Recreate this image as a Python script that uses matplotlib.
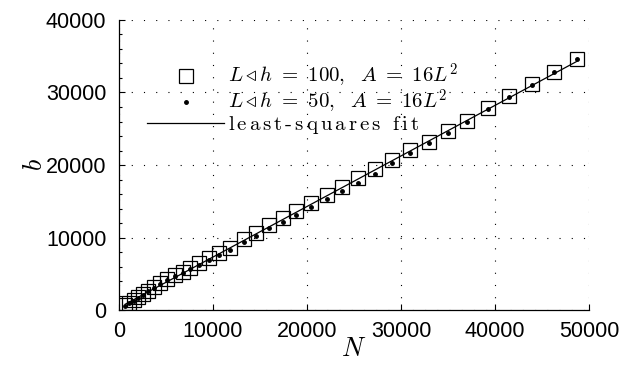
import numpy as np
import matplotlib
matplotlib.use('Agg')
from matplotlib import pyplot as plt
from matplotlib.ticker import MultipleLocator

plt.rcParams['mathtext.fontset'] = 'cm'
plt.rcParams['font.family'] = 'Liberation Sans'

# L/h = 100 series (open squares)
N_100 = [670, 1096, 1564, 2021, 2521, 3085, 3691, 4394, 5106, 5926,
         6777, 7585, 8543, 9543, 10670, 11840, 13266, 14574, 15989, 17415,
         18830, 20394, 22096, 23691, 25457, 27234, 29043, 30957, 32979, 35032,
         37021, 39287, 41521, 43936, 46309, 48691]
b_100 = [690, 1007, 1379, 1752, 2207, 2662, 3131, 3683, 4234, 4828,
         5283, 5752, 6441, 7131, 7821, 8510, 9752, 10579, 11766, 12648,
         13697, 14800, 15903, 17007, 18166, 19448, 20750, 22069, 23172, 24690,
         26138, 27903, 29517, 31172, 32869, 34579]

# L/h = 50 series (dots)
N_50 = [670, 1096, 1564, 2021, 2521, 3085, 3691, 4394, 5106, 5926,
        6777, 7585, 8543, 9543, 10670, 11840, 13266, 14574, 15989, 17415,
        18830, 20394, 22096, 23691, 25457, 27234, 29043, 30957, 32979, 35032,
        37021, 39287, 41521, 43936, 46309, 48691]
b_50 = [600, 930, 1300, 1680, 2120, 2570, 3030, 3560, 4090, 4650,
        5150, 5600, 6250, 6900, 7550, 8250, 9400, 10200, 11300, 12200,
        13100, 14150, 15300, 16400, 17550, 18800, 20300, 21700, 23000, 24450,
        25900, 27700, 29350, 31050, 32800, 34650]

x_ticks = [0, 10000, 20000, 30000, 40000, 50000]
y_ticks = [0, 10000, 20000, 30000, 40000]

# least-squares line through both data sets
N_all = np.concatenate([N_100, N_50])
b_all = np.concatenate([b_100, b_50])
slope, icpt = np.polyfit(N_all, b_all, 1)
N_fit = np.array([min(N_all), max(N_all)])

fig = plt.figure(figsize=(6.22, 3.71), dpi=100)
ax = fig.add_axes([0.1913, 0.1644, 0.7557, 0.7817])

ax.plot(N_100, b_100, 's', mfc='none', mec='k', mew=0.9, ms=9.5,
        label=r'$L \triangleleft h\ =\ 100,\ \ A\ =\ 16L^2$')
ax.plot(N_50, b_50, '.', color='k', ms=5,
        label=r'$L \triangleleft h\ =\ 50,\ \ A\ =\ 16L^2$')
ax.plot(N_fit, slope * N_fit + icpt, '-', color='k', lw=0.9,
        label=r'$\mathrm{l\,e\,a\,s\,t\,\text{-}\,s\,q\,u\,a\,r\,e\,s\ \ f\,i\,t}$')

ax.set_xlim(0, 50000)
ax.set_ylim(0, 40000)
ax.set_xticks(x_ticks)
ax.set_yticks(y_ticks)
ax.yaxis.set_minor_locator(MultipleLocator(2000))
ax.tick_params(which='both', direction='in', labelsize=15.5, length=4,
               width=0.8, top=False, right=False)
ax.tick_params(axis='y', pad=9)
ax.tick_params(axis='x', pad=8)
ax.tick_params(which='minor', length=2.5)
ax.grid(True, which='major', color='k', linestyle=(0, (1, 10)), lw=0.8)
for side in ['top', 'right']:
    ax.spines[side].set_visible(False)
for side in ['left', 'bottom']:
    ax.spines[side].set_linewidth(0.9)

ax.set_xlabel('$N$', fontsize=19, labelpad=-4)
ax.set_ylabel('$b$', fontsize=19, labelpad=-1)

ax.legend(loc='upper left', bbox_to_anchor=(0.0596, 0.855), frameon=False,
          numpoints=1, handlelength=3.7, handletextpad=0.2,
          borderpad=0, borderaxespad=0, labelspacing=-0.1, fontsize=15)

fig.savefig('out.png', dpi=100)
